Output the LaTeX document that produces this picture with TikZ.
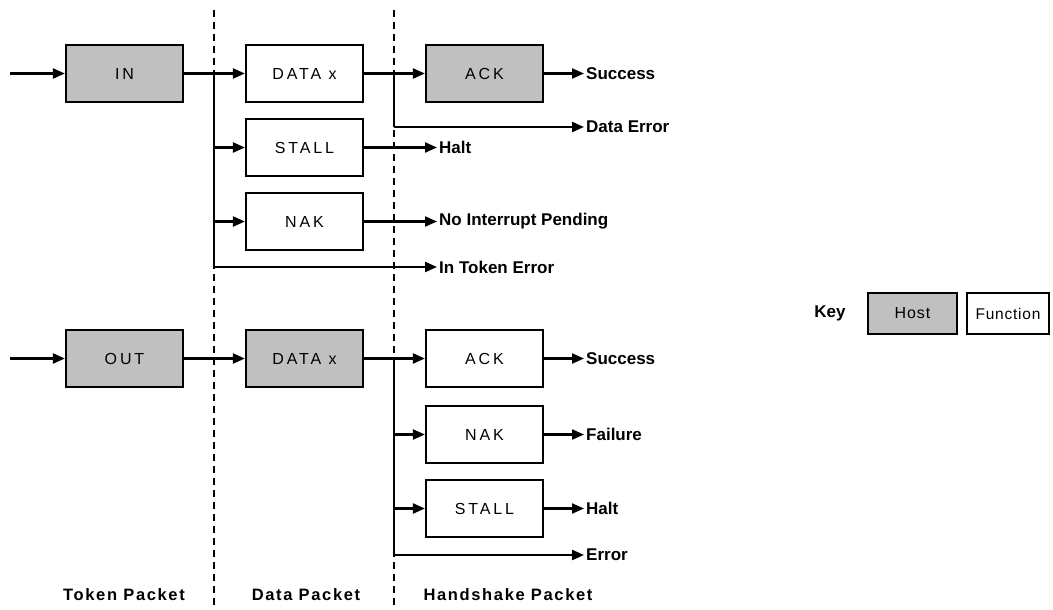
\documentclass[tikz,border=0pt]{standalone}
\usepackage{fontspec}
\setmainfont{Liberation Sans}
\usetikzlibrary{arrows.meta}
\definecolor{hostgray}{HTML}{C0C0C0}
\newfontfamily\boxfamily[LetterSpace=18]{Liberation Sans}
\newcommand\boxfont{\boxfamily\fontsize{16}{18}\selectfont}
\newcommand\lblfont{\bfseries\fontsize{17}{19}\selectfont}
\newcommand\secfont{\addfontfeature{LetterSpace=10}\bfseries\fontsize{16.5}{19}\selectfont}
\tikzset{
 box/.style={draw,line width=2.2pt,minimum width=117pt,minimum height=57pt,inner sep=0pt,font=\boxfont},
 host/.style={box,fill=hostgray},
 func/.style={box,fill=white},
 conn/.style={line width=2.2pt},
 arr/.style={conn,-{Triangle[length=12pt,width=10pt]}},
 lbl/.style={anchor=west,inner sep=2pt,font=\lblfont},
 sec/.style={inner sep=0pt,font=\secfont},
 divider/.style={line width=2.2pt,dash pattern=on 7pt off 5pt},
}
\begin{document}
\begin{tikzpicture}[x=1pt,y=-1pt]
\useasboundingbox (0,0) rectangle (1053,610);
% dividers
\draw[divider] (214,10) -- (214,610);
\draw[divider] (394,10) -- (394,610);
% top row (IN)
\node[host] (in) at (124.5,73.5) {IN};
\node[func] (dA) at (304.5,73.5) {DATA x};
\node[host] (ackA) at (484.5,73.5) {ACK};
\node[func] (stallA) at (304.5,147.5) {STALL};
\node[func] (nakA) at (304.5,221.5) {NAK};
\coordinate (inA) at (10,73.5);
\coordinate (brA) at (214,73.5);
\coordinate (brAend) at (214,267);
\coordinate (brB) at (394,73.5);
\coordinate (brBend) at (394,127);
\node[lbl] (succA) at (584,73.5) {Success};
\node[lbl] (derr) at (584,127) {Data Error};
\node[lbl] (haltA) at (437,147.5) {Halt};
\node[lbl] (nip) at (437,221.5) {No Interrupt Pending};
\node[lbl] (ite) at (437,267) {In Token Error};
\draw[arr] (inA) -- (in.west);
\draw[conn] (in.east) -- (brA);
\draw[arr] (brA) -- (dA.west);
\draw[conn] (brA) -- (brAend);
\draw[arr] (brA |- stallA) -- (stallA.west);
\draw[arr] (brA |- nakA) -- (nakA.west);
\draw[arr] (brAend) -- (ite.west);
\draw[conn] (dA.east) -- (brB);
\draw[arr] (brB) -- (ackA.west);
\draw[conn] (brB) -- (brBend);
\draw[arr] (brBend) -- (derr.west);
\draw[arr] (ackA.east) -- (succA.west);
\draw[arr] (stallA.east) -- (haltA.west);
\draw[arr] (nakA.east) -- (nip.west);
% bottom row (OUT)
\node[host] (out) at (124.5,358.5) {OUT};
\node[host] (dB) at (304.5,358.5) {DATA x};
\node[func] (ackB) at (484.5,358.5) {ACK};
\node[func] (nakB) at (484.5,434.5) {NAK};
\node[func] (stallB) at (484.5,508.5) {STALL};
\coordinate (outA) at (10,358.5);
\coordinate (brC) at (394,358.5);
\coordinate (brCend) at (394,555);
\node[lbl] (succB) at (584,358.5) {Success};
\node[lbl] (fail) at (584,434.5) {Failure};
\node[lbl] (haltB) at (584,508.5) {Halt};
\node[lbl] (err) at (584,555) {Error};
\draw[arr] (outA) -- (out.west);
\draw[arr] (out.east) -- (dB.west);
\draw[conn] (dB.east) -- (brC);
\draw[arr] (brC) -- (ackB.west);
\draw[conn] (brC) -- (brCend);
\draw[arr] (brC |- nakB) -- (nakB.west);
\draw[arr] (brC |- stallB) -- (stallB.west);
\draw[arr] (brCend) -- (err.west);
\draw[arr] (ackB.east) -- (succB.west);
\draw[arr] (nakB.east) -- (fail.west);
\draw[arr] (stallB.east) -- (haltB.west);
% section labels
\node[sec] (tok) at (124,595) {Token Packet};
\node[sec] (dat) at (306,595) {Data Packet};
\node[sec] (hs) at (508,595) {Handshake Packet};
% key
\node[font=\lblfont,inner sep=0pt] (key) at (830,313) {Key};
\node[host,minimum width=89pt,minimum height=41pt,font=\boxfamily\fontsize{16}{18}\selectfont\addfontfeature{LetterSpace=6}] (khost) at (912.5,313.5) {Host};
\node[func,minimum width=82pt,minimum height=41pt,font=\fontsize{15.5}{18}\selectfont\addfontfeature{LetterSpace=5}] (kfunc) at (1008,313.5) {Function};
\end{tikzpicture}
\end{document}
